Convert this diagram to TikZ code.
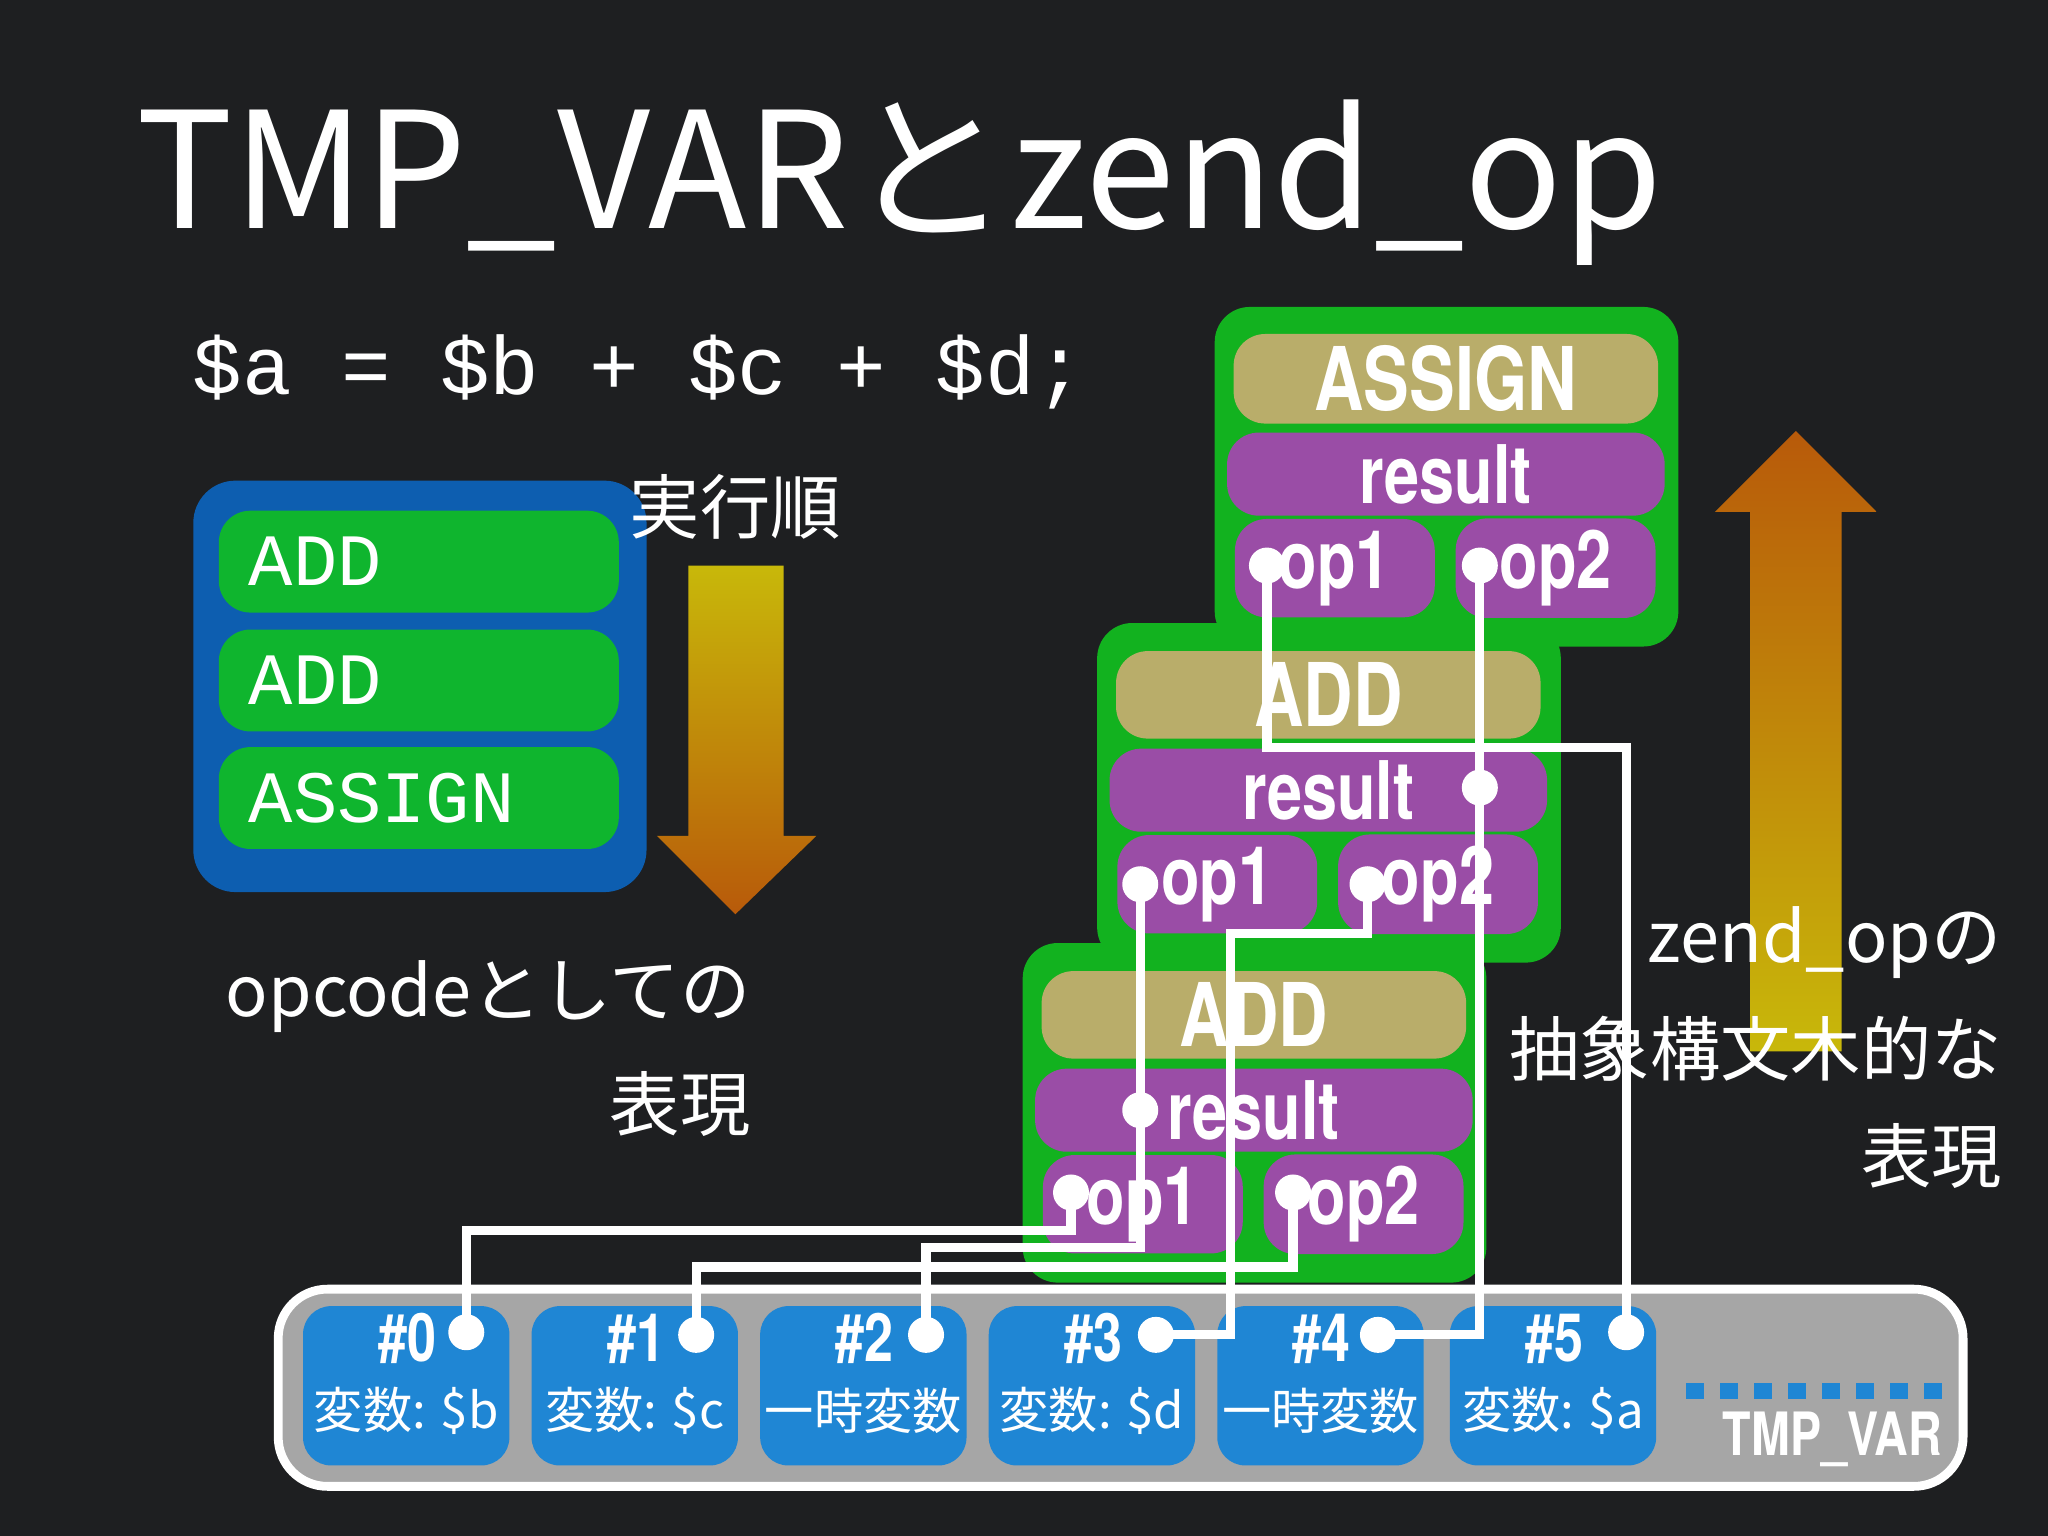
\documentclass[tikz,border=0pt]{standalone}
\usepackage{fontspec}
\setmainfont{Noto Sans CJK JP}
\newfontfamily\codefont{Liberation Mono}
\newfontfamily\condfont[FakeStretch=0.78]{TeX Gyre Heros}
\usetikzlibrary{positioning,calc}
\definecolor{bgdark}{HTML}{1E1F21}
\definecolor{opgreen}{HTML}{0FB52E}
\definecolor{panelgreen}{HTML}{12B21F}
\definecolor{opblue}{HTML}{0D5EB0}
\definecolor{slotblue}{HTML}{1F86D4}
\definecolor{headtan}{HTML}{B9AD6A}
\definecolor{fieldpurple}{HTML}{9A4DA6}
\definecolor{arrowyel}{HTML}{C8B80A}
\definecolor{arroworg}{HTML}{B85A0A}

\begin{document}
\begin{tikzpicture}[x=0.01306cm,y=-0.01306cm,
    panel/.style={fill=panelgreen,rounded corners=10pt},
    head/.style={fill=headtan,rounded corners=9pt,font=\condfont\bfseries\fontsize{25}{27}\selectfont,text=white},
    field/.style={fill=fieldpurple,rounded corners=9pt,font=\condfont\bfseries\fontsize{23}{25}\selectfont,text=white},
    opcode/.style={fill=opgreen,rounded corners=9pt,font=\codefont\fontsize{21}{24}\selectfont,text=white,text width=3.4cm,inner xsep=0.3cm,align=left},
    slot/.style={fill=slotblue,rounded corners=8pt,text=white,align=center},
    dot/.style={circle,fill=white,inner sep=0pt,minimum size=0.36cm},
    link/.style={draw=white,line width=2.6pt},
    caption/.style={text=white,font=\fontsize{20}{30}\selectfont}
]
\fill[bgdark] (0,0) rectangle (1568,1176);
\useasboundingbox (0,0) rectangle (1568,1176);

% title and source line
\node[anchor=west,text=white,font=\fontsize{46}{50}\selectfont] (title) at (95,140) {TMP\_VARとzend\_op};
\node[anchor=west,text=white,font=\codefont\fontsize{23.5}{28}\selectfont] (code) at (138,285) {\$a = \$b + \$c + \$d;};

% opcode list
\fill[opblue,rounded corners=12pt] (148,368) rectangle (495,683);
\node[opcode,anchor=west,minimum width=303*0.01306cm,minimum height=78*0.01306cm] (add1) at (167,430) {ADD};
\node[opcode,anchor=west,minimum width=303*0.01306cm,minimum height=78*0.01306cm] (add2) at (167,521) {ADD};
\node[opcode,anchor=west,minimum width=303*0.01306cm,minimum height=78*0.01306cm] (assign) at (167,611) {ASSIGN};

% execution order arrow
\node[caption] (order) at (563,388) {実行順};
\shade[top color=arrowyel,bottom color=arroworg] (527,433) -- (600,433) -- (600,640) -- (625,640) -- (563,700) -- (503,640) -- (527,640) -- cycle;
\node[caption,anchor=east] (opcap) at (584,763) {opcodeとしての};
\node[caption,anchor=east] (opcap2) at (584,845) {表現};

% tree arrow
\shade[top color=arroworg,bottom color=arrowyel] (1340,805) -- (1340,392) -- (1313,392) -- (1375,330) -- (1437,392) -- (1410,392) -- (1410,805) -- cycle;
\node[caption,anchor=east] (treecap) at (1542,722) {zend\_opの};
\node[caption,anchor=east] (treecap2) at (1542,803) {抽象構文木的な};
\node[caption,anchor=east] (treecap3) at (1542,885) {表現};

% zend_op panels
\foreach \px/\py/\op in {930/235/ASSIGN, 840/477/ADD, 783/722/ADD}{
  \fill[panel] (\px,\py) rectangle ++(355,260);
  \node[head,minimum width=325*0.01306cm,minimum height=64*0.01306cm] at (\px+177,\py+55) {\op};
  \node[field,minimum width=335*0.01306cm,minimum height=63*0.01306cm] at (\px+177,\py+128) {result};
  \node[field,minimum width=153*0.01306cm,minimum height=66*0.01306cm] at (\px+92,\py+200) {op1};
  \node[field,minimum width=153*0.01306cm,minimum height=66*0.01306cm] at (\px+261,\py+200) {op2};
}
\node[dot] (aop1) at (970,433) {};
\node[dot] (aop2) at (1133,433) {};
\node[dot] (bres) at (1133,603) {};
\node[dot] (bop1) at (873,677) {};
\node[dot] (bop2) at (1047,677) {};
\node[dot] (cres) at (873,850) {};
\node[dot] (cop1) at (820,913) {};
\node[dot] (cop2) at (990,913) {};

% TMP_VAR slots
\fill[gray!70,draw=white,line width=2.5pt,rounded corners=14pt] (213,987) rectangle (1503,1138);
\foreach \i/\x/\txt in {0/232/変数: \$b, 1/407/変数: \$c, 2/582/一時変数, 3/757/変数: \$d, 4/932/一時変数, 5/1110/変数: \$a}{
  \fill[slot] (\x,1000) rectangle ++(158,122);
  \node[text=white,font=\condfont\bfseries\fontsize{19}{20}\selectfont] at (\x+80,1025) {\#\i};
  \node[text=white,font=\fontsize{14}{16}\selectfont] at (\x+79,1080) {\txt};
}
\foreach \k in {0,...,7} \fill[slotblue] (1291+\k*26,1059) rectangle ++(14,12);
\node[text=white,font=\condfont\bfseries\fontsize{17}{18}\selectfont] (tmpvar) at (1403,1102) {TMP\_VAR};
\node[dot] (v0) at (357,1020) {};
\node[dot] (v1) at (533,1022) {};
\node[dot] (v2) at (709,1022) {};
\node[dot] (v3) at (885,1022) {};
\node[dot] (v4) at (1055,1022) {};
\node[dot] (v5) at (1245,1020) {};

% links
\draw[link] (aop1.center) |- (1245,572) -- (v5.center);
\draw[link] (aop2.center) |- (v4.center);
\draw[link] (bop1.center) -- (cres.center);
\draw[link] (bop2.center) -- (1047,715) -| (942,1022) -- (v3.center);
\draw[link] (cres.center) -- (873,955) -| (v2.center);
\draw[link] (cop1.center) -- (820,942) -| (v0.center);
\draw[link] (cop2.center) -- (990,970) -| (v1.center);
\end{tikzpicture}
\end{document}
